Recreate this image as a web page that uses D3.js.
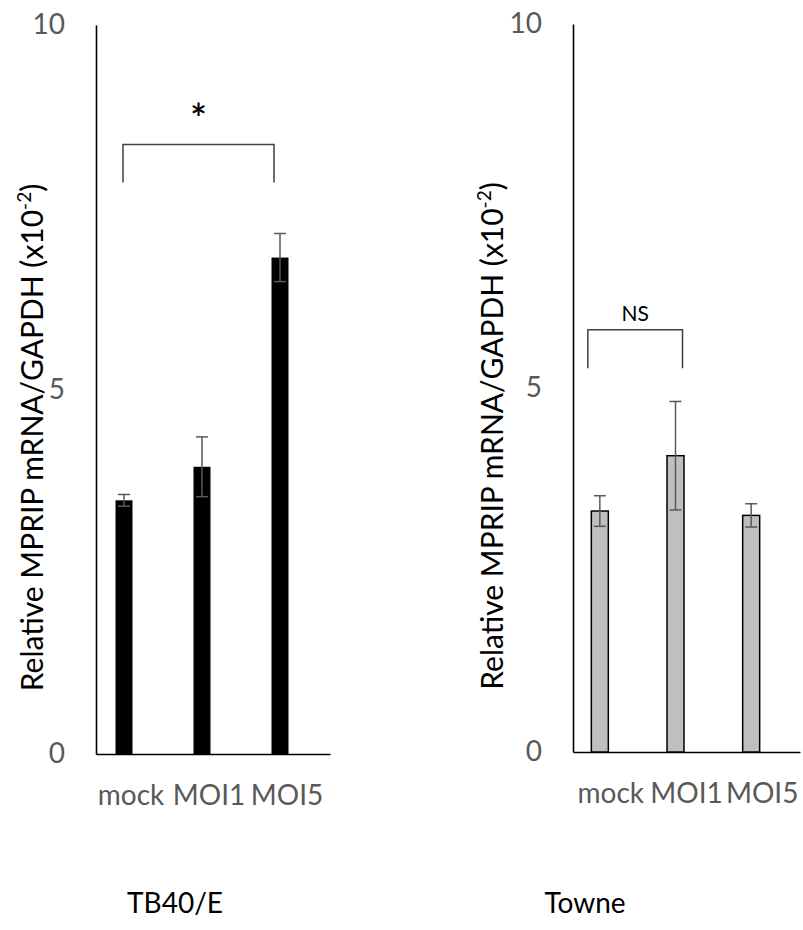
<!DOCTYPE html>
<html>
<head>
<meta charset="utf-8">
<script src="https://cdn.jsdelivr.net/npm/d3@7"></script>
<style>
  html, body { margin: 0; padding: 0; background: #fff; }
  svg text { font-family: Lato, "Open Sans", sans-serif; }
</style>
</head>
<body>
<div id="chart_parent"></div>
<script>
const categories = ['mock', 'MOI1', 'MOI5'];
const yTicks = [0, 5, 10];

const tb40Values = [3.48, 3.94, 6.81];
const tb40Errors = [0.08, 0.41, 0.33];

const towneValues = [3.31, 4.07, 3.25];
const towneErrors = [0.21, 0.745, 0.16];

// [from, to, top, bottom, label]
const tb40Bracket = ['mock', 'MOI5', 8.36, 7.84, '*'];
const towneBracket = ['mock', 'MOI1', 5.80, 5.27, 'NS'];

const chartConfig = {
    width: 803,
    height: 930,
    fontSize: 28,
    tickColour: '#595959',
    errColour: '#595959',
    bracketColour: '#404040',
    barWidth: 17,
    capWidth: 12,
};

const panels = [
    {
        title: 'TB40/E',
        values: tb40Values,
        errors: tb40Errors,
        bracket: tb40Bracket,
        fill: '#000',
        stroke: 'none',
        axisX: 96, xEnd: 330, yTop: 25, yBottom: 754,
        barOffset: -11, labelOffset: -4,
        bracketNudge: [-1, -6], markY: 133, markSize: 40, markFont: '"Open Sans", sans-serif', markWeight: 600,
        titleX: 175, yTitleX: 43,
    },
    {
        title: 'Towne',
        values: towneValues,
        errors: towneErrors,
        bracket: towneBracket,
        fill: '#bfbfbf',
        stroke: '#000',
        axisX: 573, xEnd: 800, yTop: 24, yBottom: 752,
        barOffset: -11, labelOffset: 0,
        bracketNudge: [-12, 7], markY: 321, markSize: 21, markFont: 'Lato, sans-serif', markWeight: 400,
        titleX: 585, yTitleX: 503,
    },
];

const svg = d3.select('#chart_parent').append('svg')
    .attr('width', chartConfig.width)
    .attr('height', chartConfig.height);

function drawPanel(panel) {
    const g = svg.append('g');

    const xScale = d3.scaleBand()
        .domain(categories)
        .range([panel.axisX, panel.xEnd]);
    const yScale = d3.scaleLinear()
        .domain([0, 10])
        .range([panel.yBottom, panel.yTop]);

    const barX = c => xScale(c) + xScale.bandwidth() / 2 + panel.barOffset;

    // y axis: line only, grey labels
    const yAxis = d3.axisLeft(yScale)
        .tickValues(yTicks)
        .tickSize(0)
        .tickPadding(31);
    const yAxisGroup = g.append('g')
        .attr('transform', `translate(${panel.axisX},0)`)
        .call(yAxis);
    yAxisGroup.select('.domain').attr('stroke', '#000').attr('stroke-width', 1.6);
    yAxisGroup.selectAll('.tick text')
        .attr('fill', chartConfig.tickColour)
        .attr('font-size', chartConfig.fontSize)
        .attr('font-family', 'Lato, sans-serif');

    // x axis
    const xAxis = d3.axisBottom(xScale).tickSize(0).tickFormat('');
    const xAxisGroup = g.append('g')
        .attr('transform', `translate(0,${panel.yBottom})`)
        .call(xAxis);
    xAxisGroup.select('.domain').attr('stroke', '#000').attr('stroke-width', 1.6);

    g.selectAll('.cat-label')
        .data(categories)
        .enter()
        .append('text')
        .attr('class', 'cat-label')
        .attr('x', c => xScale(c) + xScale.bandwidth() / 2 + panel.labelOffset)
        .attr('y', panel.yBottom + 51)
        .attr('text-anchor', 'middle')
        .attr('fill', chartConfig.tickColour)
        .attr('font-size', chartConfig.fontSize)
        .text(c => c);

    // bars
    g.selectAll('.bar')
        .data(categories)
        .enter()
        .append('rect')
        .attr('class', 'bar')
        .attr('x', c => barX(c) - chartConfig.barWidth / 2)
        .attr('width', chartConfig.barWidth)
        .attr('y', (c, i) => yScale(panel.values[i]))
        .attr('height', (c, i) => yScale(0) - yScale(panel.values[i]))
        .attr('fill', panel.fill)
        .attr('stroke', panel.stroke)
        .attr('stroke-width', 1.5);

    // error bars
    const err = g.selectAll('.err')
        .data(categories)
        .enter()
        .append('g')
        .attr('class', 'err')
        .attr('stroke', chartConfig.errColour)
        .attr('stroke-width', 1.5);
    err.append('line')
        .attr('x1', c => barX(c)).attr('x2', c => barX(c))
        .attr('y1', (c, i) => yScale(panel.values[i] + panel.errors[i]))
        .attr('y2', (c, i) => yScale(panel.values[i] - panel.errors[i]));
    [1, -1].forEach(sign => {
        err.append('line')
            .attr('x1', c => barX(c) - chartConfig.capWidth / 2)
            .attr('x2', c => barX(c) + chartConfig.capWidth / 2)
            .attr('y1', (c, i) => yScale(panel.values[i] + sign * panel.errors[i]))
            .attr('y2', (c, i) => yScale(panel.values[i] + sign * panel.errors[i]));
    });

    // significance bracket
    const [from, to, top, bottom, mark] = panel.bracket;
    const bx1 = barX(from) + panel.bracketNudge[0];
    const bx2 = barX(to) + panel.bracketNudge[1];
    g.append('path')
        .attr('d', d3.line()([
            [bx1, yScale(bottom)], [bx1, yScale(top)],
            [bx2, yScale(top)], [bx2, yScale(bottom)],
        ]))
        .attr('fill', 'none')
        .attr('stroke', chartConfig.bracketColour)
        .attr('stroke-width', 1.5);
    g.append('text')
        .attr('x', (bx1 + bx2) / 2)
        .attr('y', panel.markY)
        .attr('text-anchor', 'middle')
        .attr('font-family', panel.markFont)
        .attr('font-weight', panel.markWeight)
        .attr('font-size', panel.markSize)
        .attr('fill', '#000')
        .text(mark);

    // y title
    const yTitle = g.append('text')
        .attr('transform', `translate(${panel.yTitleX},${(panel.yTop + panel.yBottom) / 2 + 48}) rotate(-90)`)
        .attr('text-anchor', 'middle')
        .attr('font-size', 30)
        .attr('fill', '#000');
    yTitle.append('tspan').text('Relative MPRIP mRNA/GAPDH (x10');
    yTitle.append('tspan').attr('font-size', 19).attr('dy', -12).text('-2');
    yTitle.append('tspan').attr('dy', 12).text(')');

    // panel title
    g.append('text')
        .attr('x', panel.titleX)
        .attr('y', 913)
        .attr('text-anchor', 'middle')
        .attr('font-size', chartConfig.fontSize)
        .attr('fill', '#000')
        .text(panel.title);
}

panels.forEach(drawPanel);
</script>
</body>
</html>
